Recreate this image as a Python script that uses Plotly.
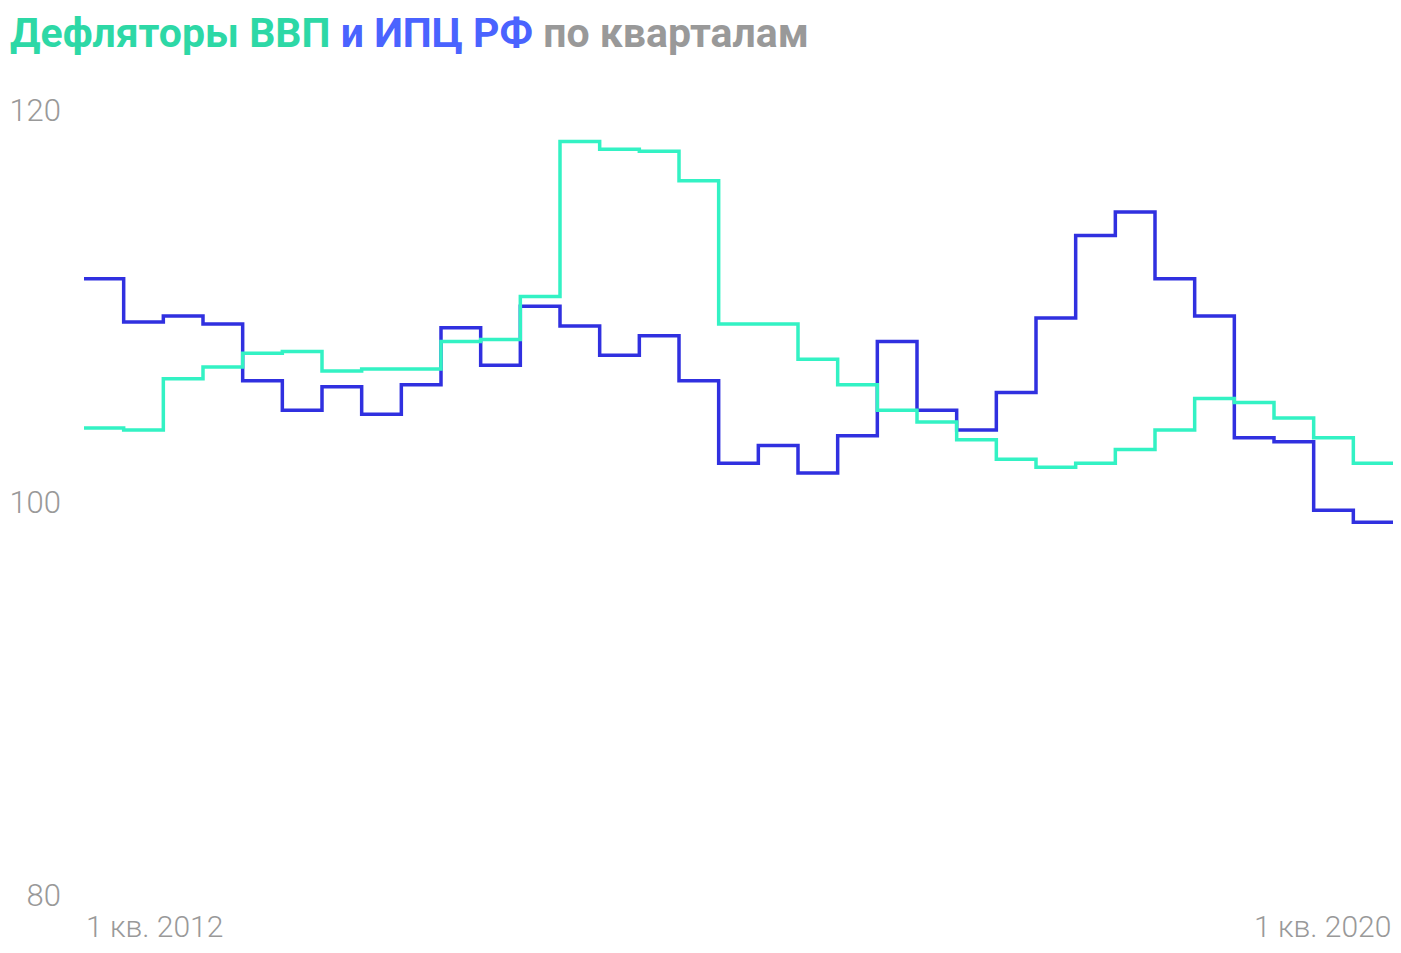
import plotly.graph_objects as go

# квартальные значения, 1 кв. 2012 - 1 кв. 2020
quarters = list(range(33))
deflator = [103.8, 103.7, 106.3, 106.9, 107.6, 107.7, 106.7, 106.8, 106.8,
            108.2, 108.3, 110.5, 118.4, 118.0, 117.9, 116.4, 109.1, 109.1,
            107.3, 106.0, 104.7, 104.1, 103.2, 102.2, 101.8, 102.0, 102.7,
            103.7, 105.3, 105.1, 104.3, 103.3, 102.0]
cpi = [111.4, 109.2, 109.5, 109.1, 106.2, 104.7, 105.9, 104.5, 106.0,
       108.9, 107.0, 110.0, 109.0, 107.5, 108.5, 106.2, 102.0, 102.9,
       101.5, 103.4, 108.2, 104.7, 103.7, 105.6, 109.4, 113.6, 114.8,
       111.4, 109.5, 103.3, 103.1, 99.6, 99.0]
x_ticks = [0, 33]
x_labels = ["1 кв. 2012", "1 кв. 2020"]
y_ticks = [80, 100, 120]

GREEN = "#33f2c4"
BLUE = "#3030e0"
GRAY = "#999999"

# последняя ступенька тянется до конца квартала
xs = quarters + [quarters[-1] + 1]

fig = go.Figure()
fig.add_trace(go.Scatter(x=xs, y=cpi + [cpi[-1]], mode="lines",
                         line=dict(color=BLUE, width=3.5, shape="hv"),
                         name="ИПЦ"))
fig.add_trace(go.Scatter(x=xs, y=deflator + [deflator[-1]], mode="lines",
                         line=dict(color=GREEN, width=3.5, shape="hv"),
                         name="Дефлятор ВВП"))

# подписи оси X: левая к левому краю, правая к правому
for xv, txt, anchor in zip(x_ticks, x_labels, ["left", "right"]):
    fig.add_annotation(x=xv, y=0, xref="x", yref="paper", yanchor="middle",
                       yshift=-31, text=txt, showarrow=False, xanchor=anchor,
                       font=dict(family="Roboto", size=30, color=GRAY, weight=300))

title = ("<span style='color:#2dd8a6'>Дефляторы ВВП</span> "
         "<span style='color:#4a63ff'>и ИПЦ РФ</span> "
         "<span style='color:#999999'>по кварталам</span>")
fig.add_annotation(x=0, y=1, xref="paper", yref="paper", xanchor="left",
                   yanchor="middle", xshift=-76, yshift=77, text=title,
                   showarrow=False,
                   font=dict(family="Roboto", size=41, weight=700))

fig.update_layout(
    width=1385, height=937,
    margin=dict(l=76, r=0, t=102, b=50),
    plot_bgcolor="white", paper_bgcolor="white",
    showlegend=False,
    xaxis=dict(range=[0, 33], showgrid=False, zeroline=False,
               showticklabels=False, showline=False, fixedrange=True,
               automargin=False),
    yaxis=dict(range=[80, 120], tickvals=y_ticks, showgrid=False,
               zeroline=False, showline=False, ticklabelstandoff=22,
               automargin=False,
               tickfont=dict(family="Roboto", size=31, color=GRAY, weight=300)),
)

fig.write_html("out.html")
